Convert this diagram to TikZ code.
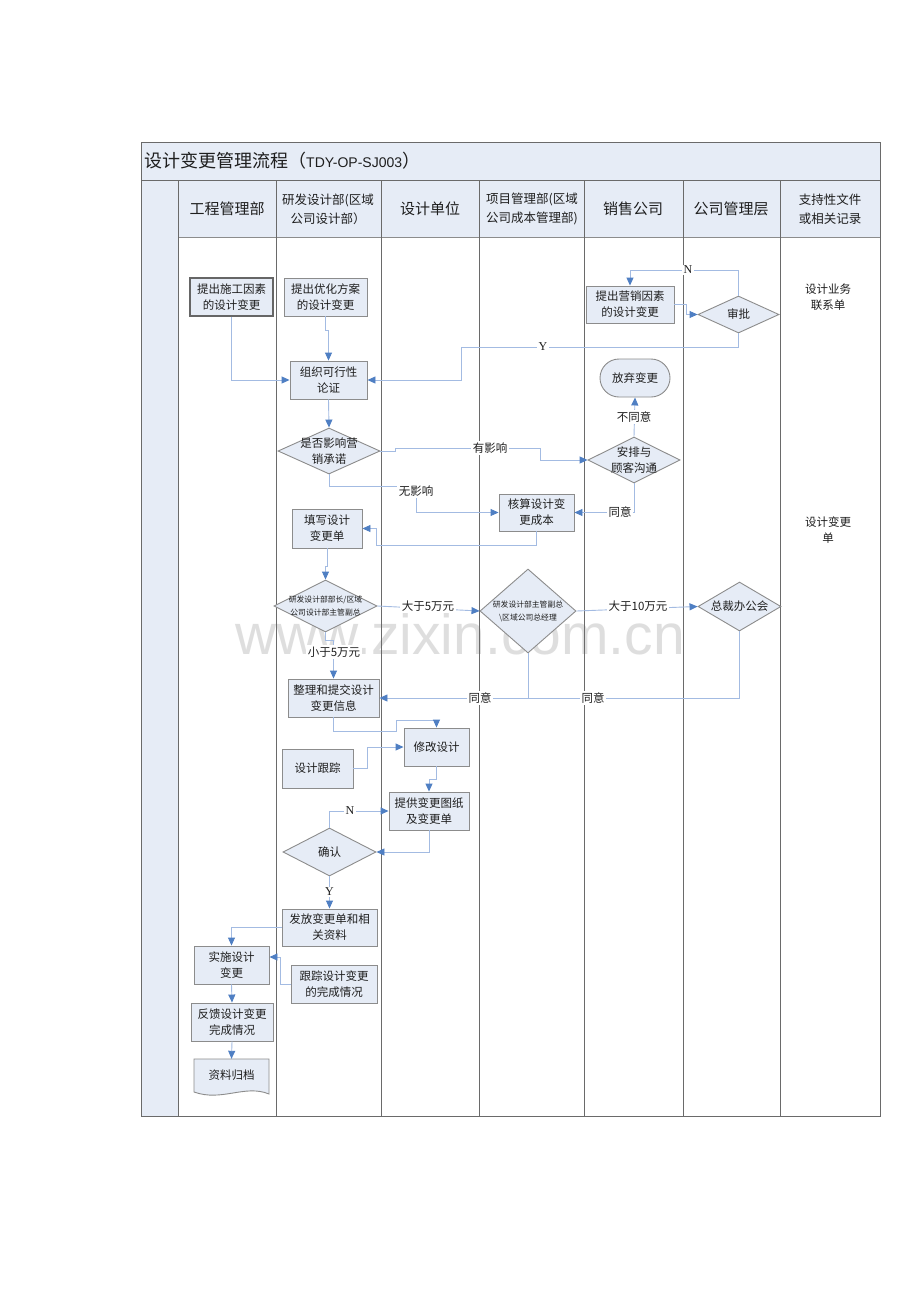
\documentclass[tikz,border=0pt]{standalone}
\usepackage{fontspec}
\setmainfont{Noto Sans CJK SC}
\newfontfamily\latserif{Liberation Serif}
\newfontfamily\latsans{Liberation Sans}
\usetikzlibrary{shapes.geometric,arrows.meta}
\definecolor{boxfill}{HTML}{E6ECF6}
\definecolor{boxdraw}{HTML}{8C8C8C}
\definecolor{lanedraw}{HTML}{6A6A6A}
\definecolor{connline}{HTML}{A3BBE2}
\definecolor{arrowblue}{HTML}{4F7FC3}
\definecolor{txt}{HTML}{1E1E1E}
\tikzset{
  box/.style={draw=boxdraw, fill=boxfill, line width=0.9pt, inner sep=0pt, align=center, text=txt, font=\fontsize{11.5}{16}\selectfont},
  dia/.style={draw=boxdraw, fill=boxfill, line width=0.9pt, diamond, inner sep=0pt},
  diatext/.style={inner sep=0pt, align=center, text=txt, font=\fontsize{11.5}{16}\selectfont},
  smalltext/.style={inner sep=0pt, align=center, text=txt, font=\fontsize{7.8}{13}\selectfont},
  conn/.style={draw=connline, line width=0.9pt},
  arr/.style={conn, -{Triangle[length=8pt,width=7pt,color=arrowblue]}},
  lbl/.style={fill=white, inner sep=1.5pt, text=txt, font=\fontsize{11.5}{14}\selectfont},
  head/.style={align=center, text=txt, font=\fontsize{15}{20}\selectfont},
  headsm/.style={align=center, text=txt, font=\fontsize{12.5}{19}\selectfont},
  lane/.style={draw=lanedraw, line width=0.8pt}
}
\begin{document}
\begin{tikzpicture}[x=1pt,y=-1pt]
\useasboundingbox[fill=white] (0,0) rectangle (920,1302);
% frame and fills
\fill[boxfill] (141,142) rectangle (880,180);
\fill[boxfill] (178,180) rectangle (880,237);
\fill[boxfill] (141,180) rectangle (178,1116);
% watermark
\node[text=black!15, opacity=0.85, font=\latsans\fontsize{57}{60}\selectfont] (wm) at (460,634) {www.zixin.com.cn};
\draw[lane] (141,142) rectangle (880,1116);
\draw[lane] (141,180) -- (880,180);
\draw[draw=boxdraw, line width=0.6pt] (178,237) -- (880,237);
\foreach \x in {178,276,381,479,584,683,780} {\draw[lane] (\x,180) -- (\x,1116);}
% title
\node[anchor=west, inner sep=0pt, text=txt, font=\fontsize{18}{20}\selectfont] (title) at (144,161) {设计变更管理流程（{\latsans\fontsize{14}{16}\selectfont TDY-OP-SJ003}）};
% headers
\node[head] (h1) at (227,209) {工程管理部};
\node[headsm] (h2) at (328,209) {研发设计部(区域\\公司设计部）};
\node[head] (h3) at (430,209) {设计单位};
\node[headsm] (h4) at (532,209) {项目管理部(区域\\公司成本管理部)};
\node[head] (h5) at (633,209) {销售公司};
\node[head] (h6) at (731,209) {公司管理层};
\node[headsm] (h7) at (830,209) {支持性文件\\或相关记录};
% supporting docs
\node[align=center, text=txt, font=\fontsize{11.5}{16}\selectfont] (s1) at (828,297) {设计业务\\联系单};
\node[align=center, text=txt, font=\fontsize{11.5}{16}\selectfont] (s2) at (828,530) {设计变更\\单};
% boxes
\node[box, draw=black!60, line width=1.1pt, minimum width=83pt, minimum height=38pt] (n1) at (231.5,297) {提出施工因素\\的设计变更};
\node[box, minimum width=83pt, minimum height=38pt] (n2) at (325.5,297) {提出优化方案\\的设计变更};
\node[box, minimum width=77pt, minimum height=38pt] (n3) at (328.5,380) {组织可行性\\论证};
\node[dia, minimum width=102pt, minimum height=46pt] (d4) at (329,451) {};
\node[diatext] (d4t) at (d4) {是否影响营\\销承诺};
\node[box, minimum width=70pt, minimum height=39pt] (n5) at (327,528.5) {填写设计\\变更单};
\node[dia, minimum width=103pt, minimum height=52pt] (d6) at (325.5,606) {};
\node[smalltext] (d6t) at (d6) {研发设计部部长/区域\\公司设计部主管副总};
\node[box, minimum width=91pt, minimum height=38pt] (n7) at (333.5,698) {整理和提交设计\\变更信息};
\node[box, minimum width=71pt, minimum height=39pt] (n8) at (317.5,768.5) {设计跟踪};
\node[box, minimum width=65pt, minimum height=38pt] (n9) at (436.5,747) {修改设计};
\node[box, minimum width=80pt, minimum height=38pt] (n10) at (429,811) {提供变更图纸\\及变更单};
\node[dia, minimum width=93pt, minimum height=48pt] (d11) at (329.5,852) {};
\node[diatext] (d11t) at (d11) {确认};
\node[box, minimum width=95pt, minimum height=37pt] (n12) at (329.5,927.5) {发放变更单和相\\关资料};
\node[box, minimum width=75pt, minimum height=38pt] (n13) at (231.5,965) {实施设计\\变更};
\node[box, minimum width=86pt, minimum height=38pt] (n14) at (334,984) {跟踪设计变更\\的完成情况};
\node[box, minimum width=82pt, minimum height=38pt] (n15) at (232,1022) {反馈设计变更\\完成情况};
% document shape
\fill[boxfill] (194,1059) -- (269,1059) -- (269,1094) .. controls (245,1084) and (222,1102) .. (194,1092) -- cycle;
\draw[draw=boxdraw, line width=0.9pt] (194,1059) -- (269,1059) -- (269,1094) .. controls (245,1084) and (222,1102) .. (194,1092) -- cycle;
\node[inner sep=0pt, minimum width=75pt, minimum height=38pt, text=txt, font=\fontsize{11.5}{16}\selectfont] (n16) at (231.5,1078) {};
\node[inner sep=0pt, text=txt, font=\fontsize{11.5}{16}\selectfont] (n16t) at (231.5,1075) {资料归档};
\node[box, minimum width=75pt, minimum height=37pt] (n17) at (536.5,512.5) {核算设计变\\更成本};
\node[dia, minimum width=96pt, minimum height=84pt] (d18) at (528,611) {};
\node[smalltext] (d18t) at (d18) {研发设计部主管副总\\\textbackslash 区域公司总经理};
\node[box, minimum width=88pt, minimum height=37pt] (n19) at (630,304.5) {提出营销因素\\的设计变更};
\node[dia, minimum width=81pt, minimum height=37pt] (d20) at (738.5,314.5) {};
\node[diatext] (d20t) at (d20) {审批};
\node[box, rounded corners=19pt, minimum width=70pt, minimum height=38pt] (n21) at (635,378) {放弃变更};
\node[dia, minimum width=92pt, minimum height=46pt] (d22) at (634,460) {};
\node[diatext] (d22t) at (d22) {安排与\\顾客沟通};
\node[dia, minimum width=83pt, minimum height=49pt] (d23) at (739.5,606.5) {};
\node[diatext] (d23t) at (d23) {总裁办公会};
% connectors
\draw[arr] (n1.south) |- (n3.west);
\draw[arr] (n2.south) -- ++(0,14) -| (n3.north);
\draw[arr] (d20.south) |- (461,347) |- (n3.east);
\node[lbl, font=\latserif\fontsize{12}{14}\selectfont] (lY1) at (543,347) {Y};
\draw[arr] (d20.north) |- (630,270) -- (n19.north);
\node[lbl, font=\latserif\fontsize{12}{14}\selectfont] (lN1) at (688,270) {N};
\draw[arr] (n19.east) -- (686,304.5) |- (d20.west);
\draw[arr] (n3.south) -- (d4.north);
\draw[arr] (d4.east) -- (395,451) |- (540,448) |- (d22.west);
\node[lbl] (l1) at (490,448) {有影响};
\draw[arr] (d22.north) -- (n21.south);
\node[lbl] (l2) at (634,417) {不同意};
\draw[arr] (d22.south) |- (n17.east);
\node[lbl] (l3) at (620,512) {同意};
\draw[arr] (d4.south) |- (416,486) |- (n17.west);
\node[lbl] (l4) at (416,491) {无影响};
\draw[arr] (n17.south) |- (376,545) |- (n5.east);
\draw[arr] (n5.south) -- (327,566) -| (d6.north);
\draw[arr] (d6.east) -- (d18.west);
\node[lbl] (l5) at (428,606) {大于5万元};
\draw[arr] (d18.east) -- (d23.west);
\node[lbl] (l6) at (638,606) {大于10万元};
\draw[arr] (d6.south) -- (325.5,640) -| (333.5,660) -- (n7.north);
\node[lbl] (l7) at (334,652) {小于5万元};
\draw[arr] (d18.south) |- (n7.east);
\node[lbl] (l8) at (480,698) {同意};
\draw[conn] (d23.south) |- (528,698);
\node[lbl] (l9) at (593,698) {同意};
\draw[arr] (n7.south) |- (396,731) |- (436.5,720) -- (n9.north);
\draw[arr] (n8.east) -- (367,768.5) |- (n9.west);
\draw[arr] (n9.south) |- (429,779) -- (n10.north);
\draw[arr] (n10.south) |- (d11.east);
\draw[arr] (d11.north) |- (n10.west);
\node[lbl, font=\latserif\fontsize{12}{14}\selectfont] (lN2) at (350,811) {N};
\draw[arr] (d11.south) -- (n12.north);
\node[lbl, font=\latserif\fontsize{12}{14}\selectfont] (lY2) at (329.5,892) {Y};
\draw[arr] (n12.west) -| (n13.north);
\draw[arr] (n14.west) -- (280,984) |- ([yshift=8pt]n13.east);
\draw[arr] (n13.south) -- (n15.north);
\draw[arr] (n15.south) -- (n16.north);
\end{tikzpicture}
\end{document}
